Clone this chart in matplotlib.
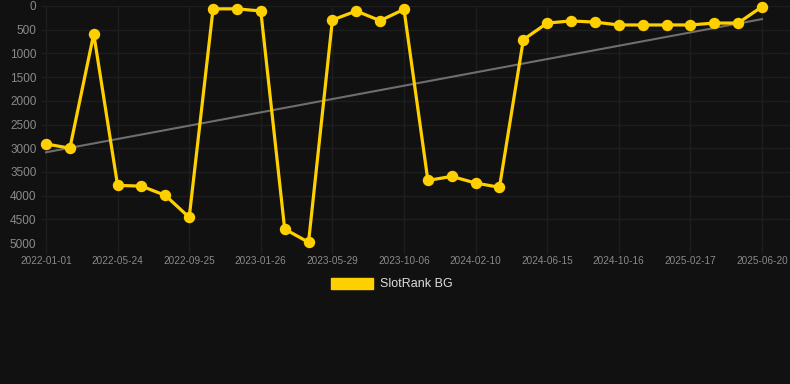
import numpy as np
import matplotlib
matplotlib.use("Agg")
import matplotlib.pyplot as plt
from matplotlib.patches import Patch

# rank values (lower is better, axis inverted)
ranks = [2910, 3000, 590, 3785, 3800, 3995, 4460, 60, 60, 105,
         4705, 4985, 295, 105, 310, 70, 3680, 3595, 3735, 3825,
         710, 360, 315, 340, 400, 400, 400, 400, 360, 360, 15]
tick_labels = ["2022-01-01", "2022-05-24", "2022-09-25", "2023-01-26",
               "2023-05-29", "2023-10-06", "2024-02-10", "2024-06-15",
               "2024-10-16", "2025-02-17", "2025-06-20"]
series_name = "SlotRank BG"

bg = "#111111"
yellow = "#FFD000"
grid_col = "#1e1e1e"
text_col = "#8a8a8a"

plt.rcParams["font.family"] = ["Liberation Sans", "DejaVu Sans"]

fig = plt.figure(figsize=(7.9, 3.84), dpi=100, facecolor=bg)
ax = fig.add_axes([42 / 790, 141 / 384, 748 / 790, 237 / 384], facecolor=bg)

x = np.arange(len(ranks))

# trend line (least squares fit)
coef = np.polyfit(x, ranks, 1)
ax.plot(x, np.polyval(coef, x), color="#6e6e6e", lw=1.5, zorder=2)

# main series
ax.plot(x, ranks, color=yellow, lw=2.3, marker="o", markersize=7.2,
        clip_on=False, zorder=3)

ax.set_xlim(-4 / 23.867, 30 + 28 / 23.867)
ax.set_ylim(5000, 0)
ax.set_yticks(np.arange(0, 5001, 500))
ax.set_xticks(x[::3])
ax.set_xticklabels(tick_labels)

ax.grid(True, color=grid_col, lw=1)
ax.set_axisbelow(True)
for s in ax.spines.values():
    s.set_visible(False)
ax.tick_params(axis="y", colors=text_col, labelsize=8.5, length=0, pad=4)
ax.tick_params(axis="x", colors=grid_col, labelcolor=text_col, labelsize=7.2,
               length=8, width=1, pad=1)

fig.legend(handles=[Patch(facecolor=yellow, edgecolor=yellow)],
           labels=[series_name], loc="center",
           bbox_to_anchor=(392 / 790, 1 - 284 / 384), frameon=False,
           fontsize=9, labelcolor="#dddddd", handlelength=3.3,
           handleheight=1.0, handletextpad=0.6)

fig.savefig("out.png", dpi=100, facecolor=bg)
